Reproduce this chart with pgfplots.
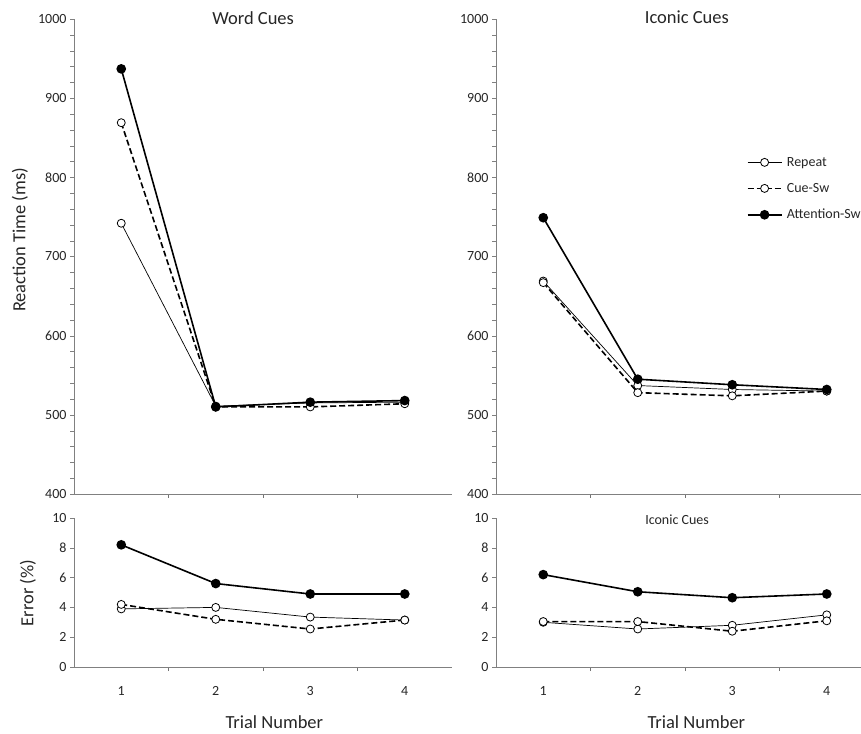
\documentclass[border=0pt]{standalone}
\usepackage{fontspec}
\setmainfont{Carlito}
\usepackage{pgfplots}
\usepackage{pgfplotstable}
\pgfplotsset{compat=1.18}

% reaction times (ms)
\pgfplotstableread{
trial rep cue att
1 742 869 937
2 511 510 510
3 515 510 516
4 516 514 518
}\wordrt
\pgfplotstableread{
trial rep cue att
1 669 667 749
2 537 528 545
3 532 524 538
4 530 530 532
}\iconrt
% errors (%)
\pgfplotstableread{
trial rep cue att
1 3.9 4.2 8.2
2 4.0 3.2 5.6
3 3.35 2.55 4.9
4 3.15 3.15 4.9
}\worderr
\pgfplotstableread{
trial rep cue att
1 3.0 3.05 6.2
2 2.55 3.05 5.05
3 2.8 2.4 4.65
4 3.5 3.1 4.9
}\iconerr

\pgfplotsset{
  panel/.style={
    scale only axis, width=378pt,
    xmin=0.5, xmax=4.5,
    xtick={1,2,3,4}, minor xtick={1.5,2.5,3.5},
    major x tick style={draw=none},
    minor x tick style={black!55, line width=0.7pt},
    axis x line*=bottom, axis y line*=left,
    axis line style={-, black!50, line width=0.8pt},
    tick align=outside, major tick length=4pt, minor tick length=4pt,
    ytick style={black!50},
    tick label style={font=\fontsize{14}{15}\selectfont, text=black!85},
    /pgf/number format/assume math mode=true,
    /pgf/number format/1000 sep={},
    label style={font=\fontsize{18.5}{20}\selectfont, text=black!85},
    title style={font=\fontsize{18.5}{20}\selectfont, text=black!85, anchor=center},
    clip=false,
  },
  toppanel/.style={panel, height=475pt, ymin=400, ymax=1000,
    ytick={400,500,...,1000}, minor y tick num=4, xticklabels={}},
  botpanel/.style={panel, height=149pt, ymin=0, ymax=10,
    ytick={0,2,...,10}, xticklabel style={yshift=-12pt},
    xlabel={Trial Number},
    xlabel style={at={(axis description cs:0.53,0)}, anchor=center, yshift=-55pt}},
  rep/.style={black, line width=0.7pt, mark=*, mark size=4pt,
    mark options={solid, fill=white, draw=black, line width=0.8pt}},
  cue/.style={black, line width=1.6pt, dash pattern=on 6pt off 3pt, mark=*, mark size=4pt,
    mark options={solid, fill=white, draw=black, line width=0.8pt}},
  att/.style={black, line width=1.6pt, mark=*, mark size=4pt,
    mark options={solid, fill=black}},
}

\begin{document}
\begin{tikzpicture}
% top left: word cues, RT
\begin{axis}[toppanel, at={(74pt,239pt)}, anchor=south west,
  title={Word Cues}, title style={at={(axis description cs:0.474,0.989)}},
  ylabel={Reaction Time (ms)},
  ylabel style={at={(axis description cs:-0.143,0.535)}, anchor=center}]
\addplot[rep] table[x=trial, y=rep] {\wordrt};
\addplot[cue] table[x=trial, y=cue] {\wordrt};
\addplot[att] table[x=trial, y=att] {\wordrt};
\end{axis}
% top right: iconic cues, RT
\begin{axis}[toppanel, at={(496pt,239pt)}, anchor=south west,
  title={Iconic Cues}, title style={at={(axis description cs:0.505,0.991)}},
  legend style={draw=none, fill=none, at={(axis description cs:0.655,0.717)}, anchor=north west,
    font=\fontsize{14}{15}\selectfont, text=black!85, row sep=12.5pt,
    nodes={inner sep=1.5pt}},
  legend cell align=left,
  legend image code/.code={\draw[mark repeat=2, mark phase=2, #1]
    plot coordinates {(0pt,0pt) (17pt,0pt) (34pt,0pt)};}]
\addplot[rep] table[x=trial, y=rep] {\iconrt};
\addlegendentry{\hspace{3pt}Repeat}
\addplot[cue] table[x=trial, y=cue] {\iconrt};
\addlegendentry{\hspace{3pt}Cue-Sw}
\addplot[att] table[x=trial, y=att] {\iconrt};
\addlegendentry{\hspace{3pt}Attention-Sw}
\end{axis}
% bottom left: word cues, error
\begin{axis}[botpanel, at={(74pt,66pt)}, anchor=south west,
  ylabel={Error (\%)},
  ylabel style={at={(axis description cs:-0.122,0.497)}, anchor=center}]
\addplot[rep] table[x=trial, y=rep] {\worderr};
\addplot[cue] table[x=trial, y=cue] {\worderr};
\addplot[att] table[x=trial, y=att] {\worderr};
\end{axis}
% bottom right: iconic cues, error
\begin{axis}[botpanel, at={(496pt,66pt)}, anchor=south west,
  title={Iconic Cues},
  title style={at={(axis description cs:0.479,0.946)}, font=\fontsize{14}{15}\selectfont}]
\addplot[rep] table[x=trial, y=rep] {\iconerr};
\addplot[cue] table[x=trial, y=cue] {\iconerr};
\addplot[att] table[x=trial, y=att] {\iconerr};
\end{axis}
\pgfresetboundingbox
\useasboundingbox (0pt,0pt) rectangle (861pt,733pt);
\end{tikzpicture}
\end{document}
